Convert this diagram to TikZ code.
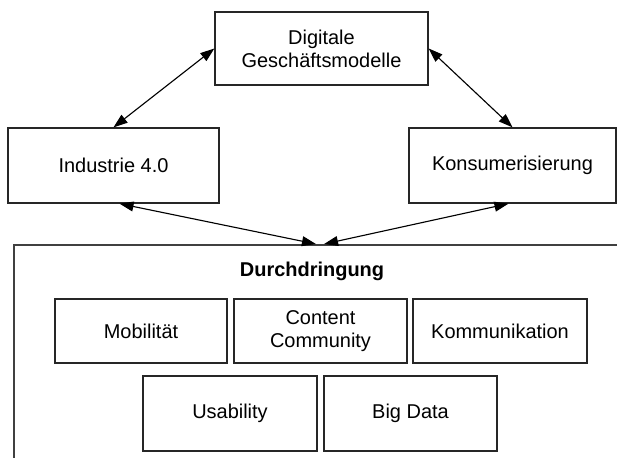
\documentclass[tikz,border=0pt]{standalone}
\usepackage{fontspec}
\setmainfont{Liberation Sans}
\usetikzlibrary{arrows.meta}

\begin{document}
\begin{tikzpicture}[x=0.025cm,y=-0.025cm,
		box/.style={shape=rectangle,draw=black!85,line width=0.9pt,align=center,
			font=\fontsize{14.2}{16.4}\selectfont},
		pfeil/.style={{Triangle[length=10pt,width=7pt]}-{Triangle[length=10pt,width=7pt]},
			line width=0.8pt,black}]

		\useasboundingbox (0,0) rectangle (617,458);
		\clip (0,0) rectangle (617,458);

		% aeussere Ebenen
		\node[box,minimum width=5.325cm,minimum height=1.825cm] (dig) at (321.5,48.5)   {Digitale\\Geschäftsmodelle};
		\node[box,minimum width=5.275cm,minimum height=1.875cm] (ind) at (113.5,165.5)  {Industrie 4.0};
		\node[box,minimum width=5.175cm,minimum height=1.875cm] (kon) at (512.5,165.5)  {Konsumerisierung};

		% Durchdringung (ragt ueber den Rand)
		\node[shape=rectangle,draw=black!75,line width=1.3pt,minimum width=15.3cm,minimum height=5.9cm] (dur) at (320,363) {};
		\node[box,draw=none,font=\fontsize{14.2}{16.4}\selectfont\bfseries] (titel) at (312,271) {Durchdringung};

		\node[box,minimum width=4.3cm,minimum height=1.6cm]    (mob) at (141,331)    {Mobilität};
		\node[box,minimum width=4.325cm,minimum height=1.6cm]  (con) at (320.5,331)  {Content\\Community};
		\node[box,minimum width=4.35cm,minimum height=1.6cm]   (kom) at (500,331)    {Kommunikation};
		\node[box,minimum width=4.35cm,minimum height=1.875cm] (usa) at (230,413.5)  {Usability};
		\node[box,minimum width=4.325cm,minimum height=1.875cm](big) at (410.5,413.5) {Big Data};

		\draw[pfeil] (ind.north) -- (dig.west);
		\draw[pfeil] (dig.east) -- (kon.north);
		\draw[pfeil] ([xshift=0.15cm]ind.south) -- ([xshift=-0.1cm]dur.north);
		\draw[pfeil] ([xshift=-0.1cm]kon.south) -- ([xshift=0.1cm]dur.north);
		\end{tikzpicture}
\end{document}
